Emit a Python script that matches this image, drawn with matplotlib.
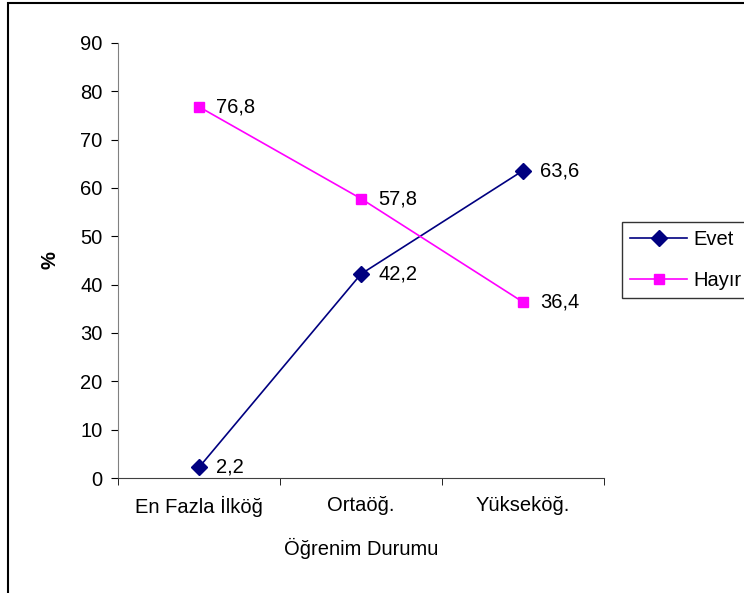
import matplotlib
matplotlib.use('Agg')
import matplotlib.pyplot as plt
from matplotlib.patches import Rectangle

categories = ['En Fazla İlköğ', 'Ortaöğ.', 'Yükseköğ.']
evet = [2.2, 42.2, 63.6]
hayir = [76.8, 57.8, 36.4]
evet_labels = ['2,2', '42,2', '63,6']
hayir_labels = ['76,8', '57,8', '36,4']

plt.rcParams['font.family'] = ['Liberation Sans', 'DejaVu Sans']
fs = 14.5

fig = plt.figure(figsize=(7.44, 5.93), dpi=100)
ax = fig.add_axes([118 / 744, 1 - 478 / 593, 486 / 744, 435 / 593])

x = list(range(len(categories)))
l1, = ax.plot(x, evet, color='#000080', marker='D', markersize=8, lw=1.2, label='Evet')
l2, = ax.plot(x, hayir, color='#FF00FF', marker='s', markersize=7.5, lw=1.2, label='Hayır')

# etiquetas de valores
for xi, v, t in zip(x, evet, evet_labels):
    ax.annotate(t, (xi, v), xytext=(12.5, 0), textcoords='offset points', va='center', fontsize=fs)
for xi, v, t in zip(x, hayir, hayir_labels):
    ax.annotate(t, (xi, v), xytext=(12.5, 0), textcoords='offset points', va='center', fontsize=fs)

ax.set_xlim(-0.5, 2.5)
ax.set_ylim(0, 90)
ax.set_yticks(range(0, 91, 10))
ax.set_xticks(x)
ax.set_xticklabels(categories, fontsize=fs)
ax.set_xticks([-0.5, 0.5, 1.5, 2.5], minor=True)
ax.tick_params(axis='x', which='major', length=0, pad=13)
ax.tick_params(axis='x', which='minor', length=5, direction='out')
ax.tick_params(axis='y', length=5, direction='out', labelsize=fs, pad=6)

for s in ['top', 'right']:
    ax.spines[s].set_visible(False)
ax.spines['left'].set_color('#808080')
ax.spines['bottom'].set_color('#404040')

ax.set_xlabel('Öğrenim Durumu', fontsize=fs, labelpad=15)
ax.set_ylabel('%', fontsize=fs, fontweight='bold', labelpad=15)

leg = fig.legend(handles=[l1, l2], loc='upper left', bbox_to_anchor=(622 / 744, 1 - 222 / 593),
                 fontsize=fs, frameon=True, fancybox=False, edgecolor='black',
                 handlelength=2.8, handletextpad=0.3, borderpad=0.42, labelspacing=1.05,
                 borderaxespad=0)
leg.get_frame().set_linewidth(1.0)

# marco exterior del grafico
fig.patches.append(Rectangle((8 / 744, -0.1), 1.2, 1.1 - 3 / 593, transform=fig.transFigure,
                             fill=False, edgecolor='black', linewidth=1.5))

fig.savefig('out.png', dpi=100)
